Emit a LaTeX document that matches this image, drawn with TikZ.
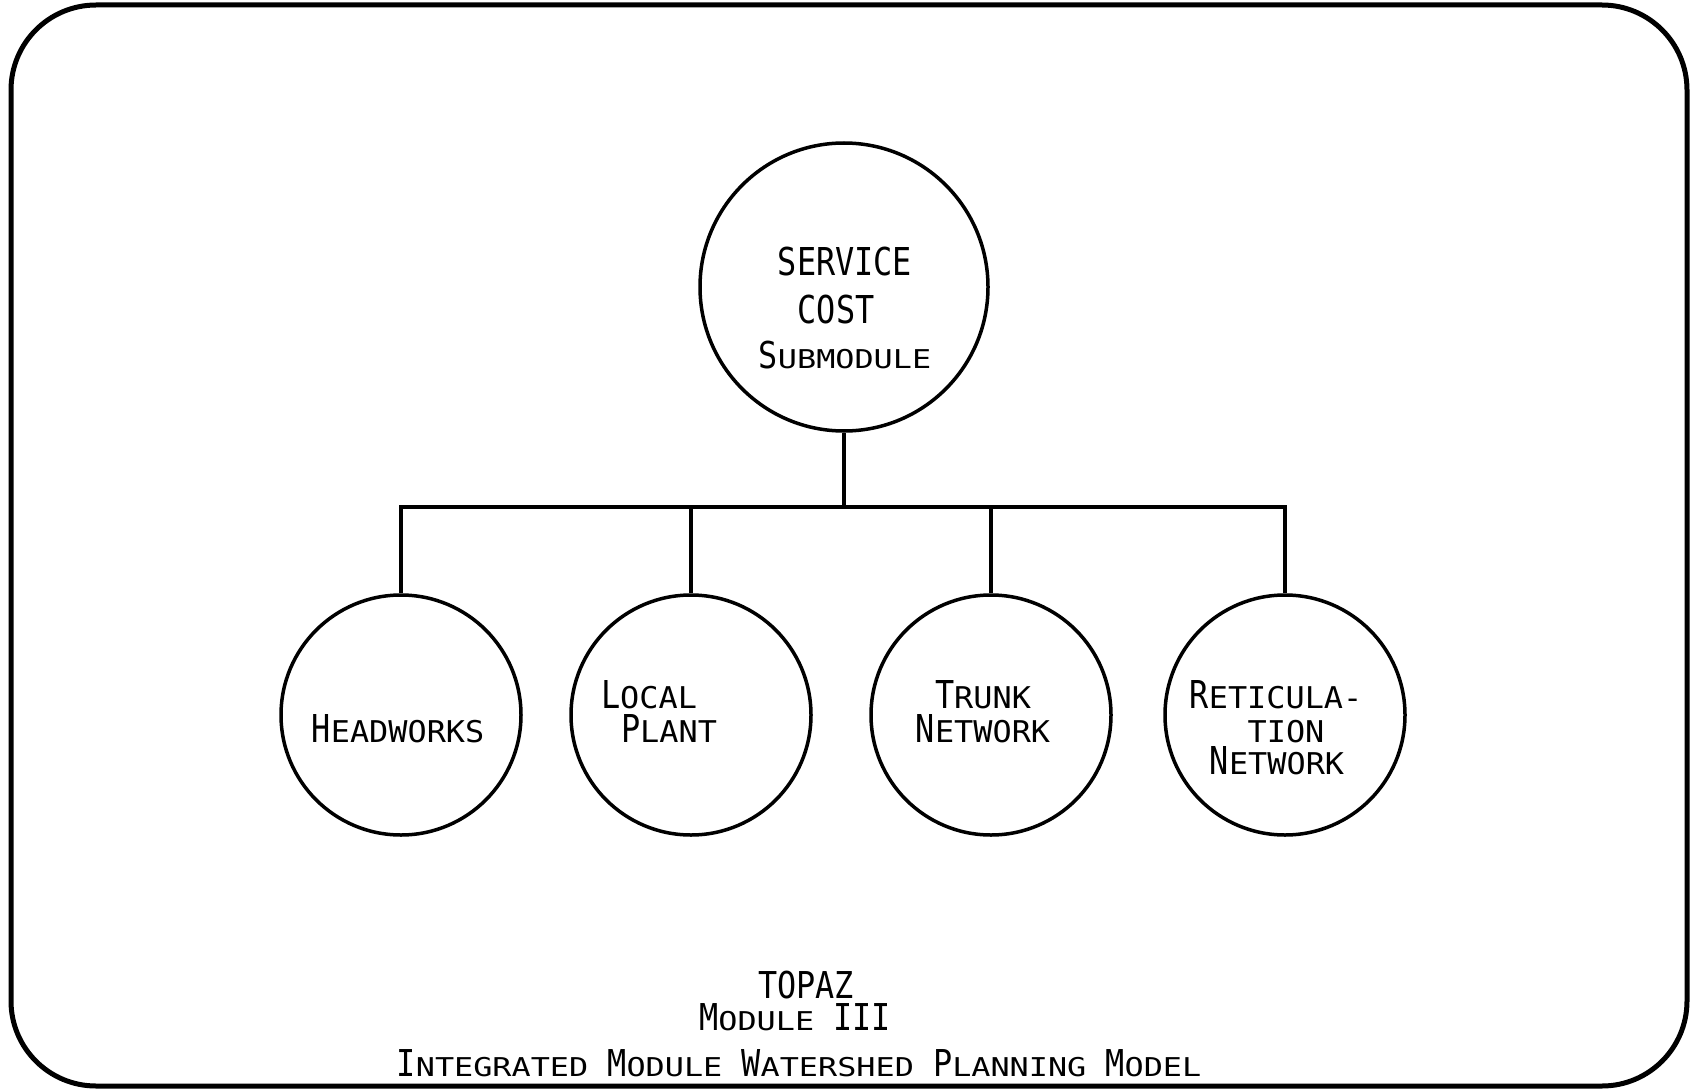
\documentclass[tikz,border=0pt]{standalone}
\usepackage{fontspec}
\usepackage{graphicx}
\newfontfamily\lettera{DejaVu Sans Mono}[FakeStretch=0.83]
\newfontfamily\letterb{DejaVu Sans Mono}[FakeStretch=0.86]
\newcommand\tmpla{\lettera\fontsize{38.4}{40}\selectfont}
\newcommand\tmplb{\letterb\fontsize{37}{40}\selectfont}
\newcommand\lowa[1]{\scalebox{1}[0.78]{#1}}
\newcommand\lowb[1]{\scalebox{1}[0.70]{#1}}
\begin{document}
\begin{tikzpicture}[x=1pt, y=-1pt,
  bubble/.style={draw, circle, line width=3.5pt, inner sep=0pt},
  wire/.style={line width=3.5pt},
  ltra/.style={anchor=base, inner sep=0pt, font=\tmpla},
  ltrb/.style={anchor=base, inner sep=0pt, font=\tmplb}]
\useasboundingbox (0,0) rectangle (1690,1089);
\draw [line width=5pt, rounded corners=85pt] (11,5) rectangle (1687,1086);
\node (svc) at (844,287) [bubble, minimum size=288pt] {};
\node (hdw) at (401,715) [bubble, minimum size=240pt] {};
\node (lcl) at (691,715) [bubble, minimum size=240pt] {};
\node (trk) at (991,715) [bubble, minimum size=240pt] {};
\node (ret) at (1285,715) [bubble, minimum size=240pt] {};
\coordinate (bus) at (844,507);
\draw [wire] (svc) -- (bus);
\foreach \kid in {hdw,lcl,trk,ret}
  \draw [wire] (bus) -| (\kid);
\node (svc1) at (845,275) [ltra] {SERVICE};
\node (svc2) at (836,323) [ltra] {COST};
\node (svc3) at (845,368) [ltrb] {S\lowb{UBMODULE}};
\node (hdw1) at (398,742) [ltra] {H\lowa{EADWORKS}};
\node (lcl1) at (649,708) [ltra] {L\lowa{OCAL}};
\node (lcl2) at (669,742) [ltra] {P\lowa{LANT}};
\node (trk1) at (983,708) [ltra] {T\lowa{RUNK}};
\node (trk2) at (983,742) [ltra] {N\lowa{ETWORK}};
\node (ret1) at (1276,708) [ltra] {R\lowa{ETICULA-}};
\node (ret2) at (1286,742) [ltra] {\lowa{TION}};
\node (ret3) at (1277,774) [ltra] {N\lowa{ETWORK}};
\node (ttl1) at (806,998) [ltrb] {TOPAZ};
\node (ttl2) at (795,1030) [ltrb] {M\lowb{ODULE} III};
\node (ttl3) at (799,1076) [ltrb] {I\lowb{NTEGRATED} M\lowb{ODULE} W\lowb{ATERSHED} P\lowb{LANNING} M\lowb{ODEL}};
\end{tikzpicture}
\end{document}
